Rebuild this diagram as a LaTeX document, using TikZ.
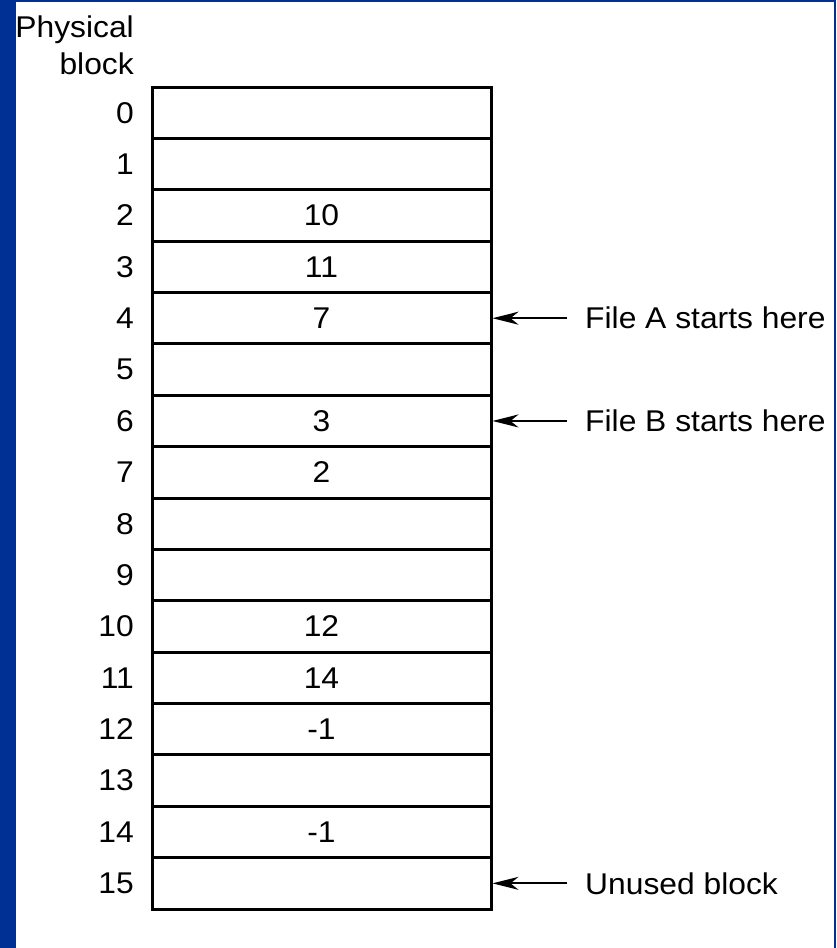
\documentclass[tikz,border=0pt]{standalone}
\usepackage{fontspec}
\setmainfont{Liberation Sans}[FakeStretch=1.06]
\usetikzlibrary{arrows.meta,positioning}
\definecolor{slideblue}{RGB}{0,48,148}

\begin{document}
\begin{tikzpicture}[
    x=1pt, y=-1pt,
    every node/.style={font=\fontsize{30}{36}\selectfont},
    cell/.style={draw=black, line width=3pt, minimum width=339pt, minimum height=51.375pt, inner sep=0pt, outer sep=0pt},
    num/.style={inner sep=0pt},
    note/.style={inner sep=0pt},
    ptr/.style={-{Stealth[length=26pt,width=13pt,inset=8pt]}, line width=1.8pt, draw=black}
    ]
    % slide background and frame
    \fill[white] (0,0) rectangle (836,948);
    \fill[slideblue] (0,0) rectangle (16,948);
    \fill[slideblue] (0,0) rectangle (836,2);
    \fill[slideblue] (834,0) rectangle (836,948);

    \node[num, anchor=base east] (hdr1) at (134,37) {Physical};
    \node[num, anchor=base east] (hdr2) at (134,74) {block};

    % the table, one row per physical block
    \foreach \i/\v in {0/{},1/{},2/10,3/11,4/7,5/{},6/3,7/2,8/{},9/{},10/12,11/14,12/-1,13/{},14/-1,15/{}} {
        \node[cell] (r\i) at (321.5, {112.7+51.375*\i}) {\v};
        \node[num, left=18pt of r\i] (n\i) {\i};
    }

    \node[note, right=94pt of r4] (fileA) {File A starts here};
    \node[note, right=94pt of r6] (fileB) {File B starts here};
    \node[note, right=94pt of r15] (unused) {Unused block};

    \draw[ptr] ([xshift=-18pt]fileA.west) -- ([xshift=1.5pt]r4.east);
    \draw[ptr] ([xshift=-18pt]fileB.west) -- ([xshift=1.5pt]r6.east);
    \draw[ptr] ([xshift=-18pt]unused.west) -- ([xshift=1.5pt]r15.east);
\end{tikzpicture}
\end{document}
